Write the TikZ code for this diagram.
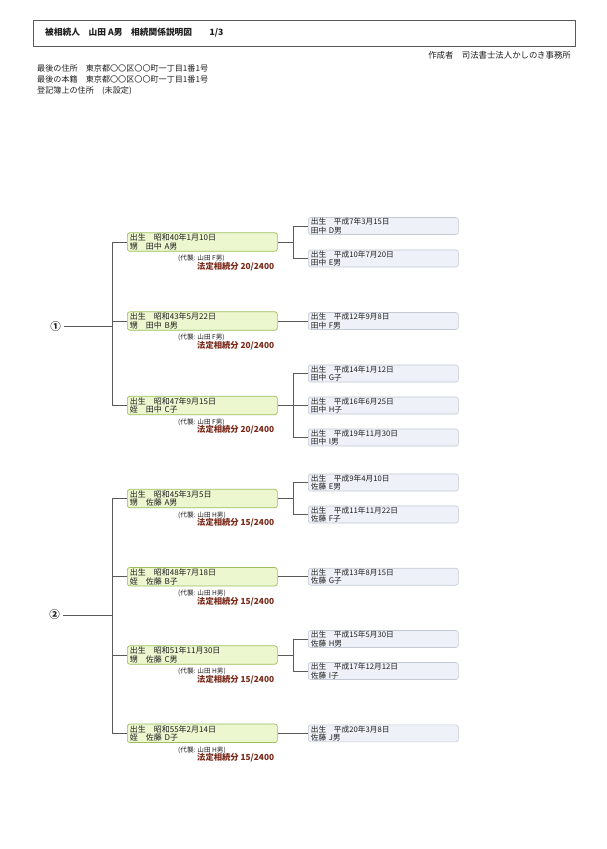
\documentclass[tikz,border=0pt]{standalone}
\usepackage{fontspec}
\setmainfont{Noto Sans CJK JP}
\definecolor{gfill}{HTML}{ECF6CF}
\definecolor{gdraw}{HTML}{9CBF5C}
\definecolor{bfill}{HTML}{EEF2F8}
\definecolor{bdraw}{HTML}{C3CAD4}
\definecolor{sharecol}{HTML}{7A2A1A}
\definecolor{linecol}{HTML}{5A5A5A}
\definecolor{txt}{HTML}{1E1E1E}
\tikzset{
  gbox/.style={draw=gdraw, fill=gfill, line width=0.7pt, rounded corners=2.5pt, anchor=west,
    minimum width=150pt, minimum height=18.5pt, text width=145pt, align=left,
    inner xsep=2.5pt, inner ysep=0.2pt, text=txt, font=\fontsize{8}{8.6}\selectfont},
  cbox/.style={draw=bdraw, fill=bfill, line width=0.6pt, rounded corners=2.5pt, anchor=west,
    minimum width=150pt, minimum height=17pt, text width=145pt, align=left,
    inner xsep=2.5pt, inner ysep=0.2pt, text=txt, font=\fontsize{7.7}{8.4}\selectfont},
  subst/.style={anchor=west, inner sep=0pt, text=txt, font=\fontsize{6.6}{7}\selectfont},
  share/.style={anchor=west, inner sep=0pt, text=sharecol, font=\fontsize{8.3}{9}\selectfont\bfseries},
  conn/.style={draw=linecol, line width=0.8pt},
  plain/.style={anchor=west, inner sep=0pt, text=txt, font=\fontsize{8.1}{9}\selectfont},
  circ/.style={inner sep=0pt, text=txt, font=\fontsize{10.5}{11}\selectfont\bfseries},
}
\begin{document}
\begin{tikzpicture}[x=1pt,y=-1pt]
\useasboundingbox[fill=white] (0,0) rectangle (607,849);
% header
\node[draw=linecol, line width=1pt, minimum width=542pt, minimum height=25.5pt, anchor=north west, inner sep=0pt] (hdr) at (33,20) {};
\node[anchor=west, inner sep=0pt, text=txt, font=\fontsize{8.7}{9.5}\selectfont\bfseries] (title) at (45,32.5) {被相続人　山田 A男　相続関係説明図　　1/3};
\node[anchor=east, inner sep=0pt, text=txt, font=\fontsize{8.4}{9}\selectfont] (author) at (571,55) {作成者　司法書士法人かしのき事務所};
\node[plain] (addr1) at (37,68) {最後の住所　東京都〇〇区〇〇町一丁目1番1号};
\node[plain] (addr2) at (37,79.5) {最後の本籍　東京都〇〇区〇〇町一丁目1番1号};
\node[plain] (addr3) at (37,91) {登記簿上の住所　(未設定)};

% ===== group 1 =====
\node[circ] (n1) at (55.5,326.5) {①};
\coordinate (bar1) at (112.5,326.5);
\node[gbox] (g1a) at (127,242) {出生　昭和40年1月10日\\甥　田中 A男};
\node[gbox] (g1b) at (127,321) {出生　昭和43年5月22日\\甥　田中 B男};
\node[gbox] (g1c) at (127,405.5) {出生　昭和47年9月15日\\姪　田中 C子};
\foreach \g/\s/\p in {g1a/山田 F男/20, g1b/山田 F男/20, g1c/山田 F男/20}{
  \node[subst] at ([xshift=51pt,yshift=-7pt]\g.south west) {(代襲: \s)};
  \node[share] at ([xshift=70pt,yshift=-15pt]\g.south west) {法定相続分 \p/2400};
}
\node[cbox] (r1d) at (308,226) {出生　平成7年3月15日\\田中 D男};
\node[cbox] (r1e) at (308,258.5) {出生　平成10年7月20日\\田中 E男};
\node[cbox] (r1f) at (308,321) {出生　平成12年9月8日\\田中 F男};
\node[cbox] (r1g) at (308,373.5) {出生　平成14年1月12日\\田中 G子};
\node[cbox] (r1h) at (308,405.5) {出生　平成16年6月25日\\田中 H子};
\node[cbox] (r1i) at (308,437.5) {出生　平成19年11月30日\\田中 I男};

\draw[conn] (n1.east) ++(3,0) -- (bar1);
\draw[conn] (g1a.west) -- ++(-14.5,0) |- (g1c.west);
\draw[conn] (g1b.west) -- ++(-14.5,0);
\draw[conn] (g1a.east) -- ++(15.5,0) coordinate (j1a);
\draw[conn] (r1d.west) -| (j1a) |- (r1e.west);
\draw[conn] (g1b.east) -- (r1f.west);
\draw[conn] (g1c.east) -- (r1h.west);
\coordinate (j1c) at ([xshift=15.5pt]g1c.east);
\draw[conn] (r1g.west) -| (j1c) |- (r1i.west);

% ===== group 2 =====
\node[circ] (n2) at (54.5,615) {②};
\coordinate (bar2) at (112.5,615);
\node[gbox] (g2a) at (127,498.5) {出生　昭和45年3月5日\\甥　佐藤 A男};
\node[gbox] (g2b) at (127,576.7) {出生　昭和48年7月18日\\姪　佐藤 B子};
\node[gbox] (g2c) at (127,655) {出生　昭和51年11月30日\\甥　佐藤 C男};
\node[gbox] (g2d) at (127,733.3) {出生　昭和55年2月14日\\姪　佐藤 D子};
\foreach \g/\s/\p in {g2a/山田 H男/15, g2b/山田 H男/15, g2c/山田 H男/15, g2d/山田 H男/15}{
  \node[subst] at ([xshift=51pt,yshift=-7pt]\g.south west) {(代襲: \s)};
  \node[share] at ([xshift=70pt,yshift=-15pt]\g.south west) {法定相続分 \p/2400};
}
\node[cbox] (r2e) at (308,482.5) {出生　平成9年4月10日\\佐藤 E男};
\node[cbox] (r2f) at (308,514.5) {出生　平成11年11月22日\\佐藤 F子};
\node[cbox] (r2g) at (308,576.7) {出生　平成13年8月15日\\佐藤 G子};
\node[cbox] (r2h) at (308,639) {出生　平成15年5月30日\\佐藤 H男};
\node[cbox] (r2i) at (308,671) {出生　平成17年12月12日\\佐藤 I子};
\node[cbox] (r2j) at (308,733.3) {出生　平成20年3月8日\\佐藤 J男};

\draw[conn] (n2.east) ++(3,0) -- (bar2);
\draw[conn] (g2a.west) -- ++(-14.5,0) |- (g2d.west);
\draw[conn] (g2b.west) -- ++(-14.5,0);
\draw[conn] (g2c.west) -- ++(-14.5,0);
\draw[conn] (g2a.east) -- ++(15.5,0) coordinate (j2a);
\draw[conn] (r2e.west) -| (j2a) |- (r2f.west);
\draw[conn] (g2b.east) -- (r2g.west);
\draw[conn] (g2c.east) -- ++(15.5,0) coordinate (j2c);
\draw[conn] (r2h.west) -| (j2c) |- (r2i.west);
\draw[conn] (g2d.east) -- (r2j.west);
\end{tikzpicture}
\end{document}
